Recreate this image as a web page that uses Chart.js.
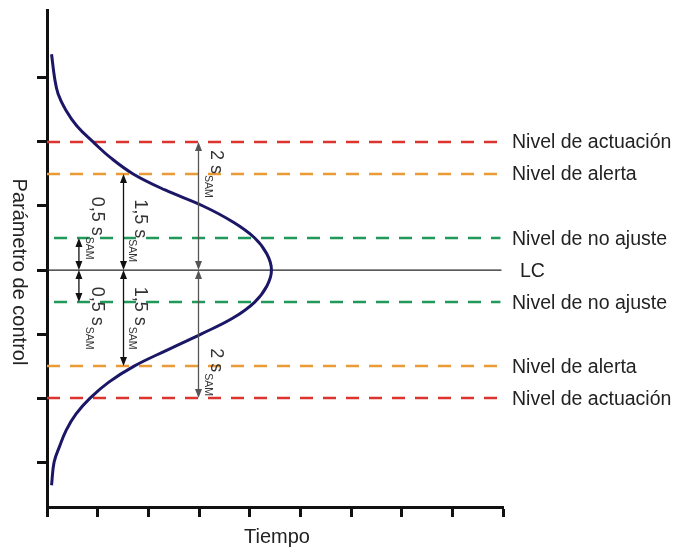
<!DOCTYPE html>
<html>
<head>
<meta charset="utf-8">
<script src="https://cdn.jsdelivr.net/npm/chart.js@4.4.1/dist/chart.umd.min.js"></script>
<style>
html, body { margin: 0; padding: 0; background: #fff; }
#wrap { width: 676px; height: 547px; }
</style>
</head>
<body>
<div id="wrap"><canvas id="controlChart"></canvas></div>
<script>
// bell curve (y in s units around LC, x in time ticks)
const curveY = [3.37, 3.0, 2.75, 2.5, 2.25, 2.0, 1.75, 1.5, 1.25, 1.0, 0.75, 0.5, 0.25, 0, -0.25, -0.5, -0.75, -1.0, -1.25, -1.5, -1.75, -2.0, -2.25, -2.5, -2.75, -3.0, -3.36];
const curveX = [0.09, 0.15, 0.22, 0.37, 0.59, 0.91, 1.26, 1.70, 2.33, 3.08, 3.67, 4.10, 4.34, 4.43, 4.34, 4.10, 3.67, 3.04, 2.37, 1.72, 1.22, 0.85, 0.57, 0.38, 0.25, 0.14, 0.09];

// horizontal levels
const levelValues = [2, 1.5, 0.5, 0, -0.5, -1.5, -2];
const levelNames = ['Nivel de actuación', 'Nivel de alerta', 'Nivel de no ajuste', 'LC', 'Nivel de no ajuste', 'Nivel de alerta', 'Nivel de actuación'];
const levelStart = 0;
const levelEnd = 8.95;

// distance arrows (in s units)
const arrowSpans = [0.5, 1.5, 2];
const arrowTexts = ['0,5 s', '1,5 s', '2 s'];
const arrowSub = 'SAM';

// axes
const xTicks = [0, 1, 2, 3, 4, 5, 6, 7, 8, 9];
const yTicks = [-3, -2, -1, 0, 1, 2, 3];
const xTitle = 'Tiempo';
const yTitle = 'Parámetro de control';

const FONT = "'Liberation Sans', Arial, sans-serif";

function levelColor(v) {
    const a = Math.abs(v);
    if (a === 2) return '#dc3530';
    if (a === 1.5) return '#eb9b35';
    if (a === 0.5) return '#20995a';
    return '#222';
}

let datasets = [{
    label: 'curva',
    data: curveX.map((x, i) => ({ x: x, y: curveY[i] })),
    showLine: true,
    borderColor: '#1b1766',
    borderWidth: 3,
    pointRadius: 0,
    tension: 0.4,
    order: 0
}];

levelValues.forEach((v, i) => {
    datasets.push({
        label: levelNames[i],
        data: [{ x: levelStart, y: v }, { x: v === 0 ? 8.97 : levelEnd, y: v }],
        showLine: true,
        borderColor: levelColor(v),
        borderWidth: v === 0 ? 1.2 : 2.5,
        borderDash: v === 0 ? [] : [13, 10],
        borderDashOffset: Math.abs(v) === 0.5 ? 16 : 0,
        pointRadius: 0,
        order: 1
    });
});

// arrow x-positions and label anchors (time units / s units)
const arrowPos = [
    { x: 0.63, lx: 0.89, top: 1.145, bot: -0.26 },
    { x: 1.51, lx: 1.74, top: 1.105, bot: -0.26 },
    { x: 2.99, lx: 3.235, top: 1.875, bot: -1.22 }
];

function drawArrow(ctx, x, y1, y2, color) {
    const head = 9, half = 3.5;
    const dir = y2 > y1 ? 1 : -1;
    ctx.strokeStyle = color;
    ctx.fillStyle = color;
    ctx.lineWidth = 1.3;
    ctx.beginPath();
    ctx.moveTo(x, y1 + dir * head);
    ctx.lineTo(x, y2 - dir * head);
    ctx.stroke();
    [[y1, -dir], [y2, dir]].forEach(([tip, d]) => {
        ctx.beginPath();
        ctx.moveTo(x, tip);
        ctx.lineTo(x - half, tip - d * head);
        ctx.lineTo(x + half, tip - d * head);
        ctx.closePath();
        ctx.fill();
    });
}

const annotations = {
    id: 'annotations',
    afterDatasetsDraw(chart) {
        const ctx = chart.ctx;
        const xs = chart.scales.x, ys = chart.scales.y;
        const area = chart.chartArea;
        ctx.save();

        // arrows and their labels
        arrowSpans.forEach((s, i) => {
            const p = arrowPos[i];
            const px = xs.getPixelForValue(p.x);
            const col = i === 2 ? '#555' : '#111';
            drawArrow(ctx, px, ys.getPixelForValue(s), ys.getPixelForValue(0), col);
            drawArrow(ctx, px, ys.getPixelForValue(0), ys.getPixelForValue(-s), col);

            [p.top, p.bot].forEach(yv => {
                ctx.save();
                ctx.translate(xs.getPixelForValue(p.lx), ys.getPixelForValue(yv));
                ctx.rotate(Math.PI / 2);
                ctx.fillStyle = '#333';
                ctx.textAlign = 'left';
                ctx.textBaseline = 'alphabetic';
                ctx.font = '18px ' + FONT;
                ctx.fillText(arrowTexts[i], 0, 0);
                const w = ctx.measureText(arrowTexts[i]).width;
                ctx.font = '10.5px ' + FONT;
                ctx.fillText(arrowSub, w + 1, 6);
                ctx.restore();
            });
        });

        // level names on the right
        ctx.fillStyle = '#222';
        ctx.font = '19.5px ' + FONT;
        ctx.textAlign = 'left';
        ctx.textBaseline = 'alphabetic';
        levelValues.forEach((v, i) => {
            const x = area.right + (v === 0 ? 17 : 9);
            ctx.fillText(levelNames[i], x, ys.getPixelForValue(v) + 6.5);
        });

        // axis titles
        ctx.font = '20px ' + FONT;
        ctx.textAlign = 'center';
        ctx.fillText(xTitle, 277, 543);
        ctx.save();
        ctx.translate(13, 272);
        ctx.rotate(Math.PI / 2);
        ctx.fillText(yTitle, 0, 0);
        ctx.restore();

        ctx.restore();
    }
};

new Chart(document.getElementById('controlChart'), {
    type: 'scatter',
    data: { datasets: datasets },
    options: {
        responsive: true,
        maintainAspectRatio: false,
        devicePixelRatio: 1,
        animation: false,
        layout: { padding: { left: 0, top: 10, right: 173, bottom: 0 } },
        plugins: { legend: { display: false }, tooltip: { enabled: false } },
        scales: {
            x: {
                type: 'linear',
                min: 0,
                max: 9,
                afterBuildTicks: scale => { scale.ticks = xTicks.map(v => ({ value: v })); },
                afterFit: scale => { scale.height = 40; },
                ticks: { display: false },
                grid: { drawOnChartArea: false, tickLength: 10, tickWidth: 3, tickColor: '#111' },
                border: { color: '#111', width: 3 }
            },
            y: {
                type: 'linear',
                min: -3.70,
                max: 4.06,
                afterBuildTicks: scale => { scale.ticks = yTicks.map(v => ({ value: v })); },
                afterFit: scale => { scale.width = 47; },
                ticks: { display: false },
                grid: { drawOnChartArea: false, tickLength: 10, tickWidth: 3, tickColor: '#111' },
                border: { color: '#111', width: 3 }
            }
        }
    },
    plugins: [annotations]
});
</script>
</body>
</html>
